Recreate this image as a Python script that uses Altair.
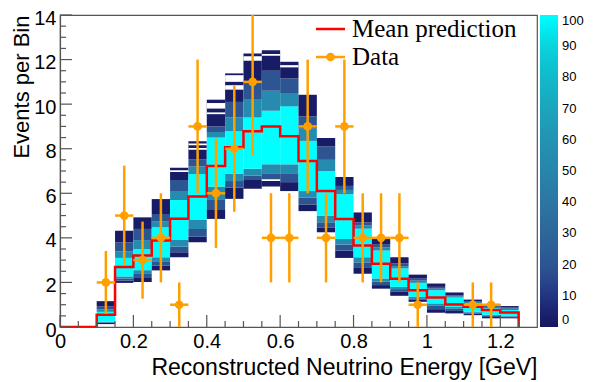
import altair as alt
import pandas as pd

# ---------------- data ----------------
bin_width = 0.05
# 2D prediction band, one entry per x bin starting at hist_x0
hist_x0 = [0.10, 0.15, 0.20, 0.25, 0.30, 0.35, 0.40, 0.45, 0.50, 0.55, 0.60, 0.65,
           0.70, 0.75, 0.80, 0.85, 0.90, 0.95, 1.00, 1.05, 1.10, 1.15, 1.20]
band_lo = [0.13, 1.98, 2.02, 2.54, 3.13, 3.80, 4.85, 5.75, 6.20, 6.30, 6.10, 5.20,
           4.25, 3.10, 2.39, 1.72, 1.40, 1.13, 0.64, 0.61, 0.53, 0.39, 0.39]
navy_lo = [0.18, 2.08, 2.20, 2.76, 3.35, 4.05, 5.25, 6.25, 6.60, 6.55, 6.50, 5.50,
           4.45, 3.43, 2.68, 1.88, 1.58, 1.22, 0.80, 0.72, 0.60, 0.45, 0.44]
blue_lo = [0.21, 2.18, 2.38, 2.95, 3.60, 4.40, 5.70, 6.55, 6.80, 6.90, 6.90, 5.80,
           4.70, 3.70, 2.90, 2.03, 1.70, 1.29, 0.95, 0.82, 0.64, 0.50, 0.47]
core_lo = [0.24, 2.27, 2.55, 3.13, 3.90, 4.80, 6.30, 6.87, 7.10, 7.30, 7.30, 6.10,
           5.00, 3.95, 3.13, 2.18, 1.80, 1.35, 1.06, 0.90, 0.68, 0.55, 0.50]
core_hi = [0.68, 3.10, 3.50, 4.47, 5.70, 6.87, 8.50, 8.78, 9.40, 9.70, 9.90, 8.35,
           7.00, 5.96, 4.41, 3.43, 2.63, 1.98, 1.65, 1.32, 1.06, 0.85, 0.76]
blue_hi = [0.80, 3.40, 3.90, 4.75, 6.10, 7.20, 8.75, 9.40, 10.20, 10.60, 10.50, 8.90,
           7.50, 6.15, 4.55, 3.58, 2.73, 2.08, 1.72, 1.37, 1.12, 0.90, 0.82]
navy_hi = [0.92, 3.80, 4.40, 5.07, 6.60, 7.53, 9.00, 10.10, 11.00, 11.50, 11.16, 9.45,
           8.10, 6.33, 4.69, 3.72, 2.85, 2.17, 1.80, 1.42, 1.16, 0.95, 0.87]
band_hi = [1.16, 4.32, 4.92, 5.74, 7.15, 8.34, 10.20, 11.38, 12.27, 12.42, 11.90, 10.42,
           8.48, 6.73, 5.14, 3.95, 3.13, 2.35, 1.95, 1.55, 1.23, 1.03, 0.94]
segment_z = [2, 20, 55, 100, 55, 20, 2]
# empty (white) rows inside the outer navy tails
gap_x0 = [0.30, 0.35, 0.35, 0.40, 0.40, 0.45, 0.45, 0.50, 0.55, 0.55, 0.60]
gap_y = [6.95, 8.15, 7.95, 9.80, 9.55, 11.00, 10.65, 11.95, 12.17, 6.55, 11.65]
gap_h = [0.08, 0.08, 0.08, 0.25, 0.08, 0.30, 0.20, 0.20, 0.08, 0.08, 0.10]

# mean prediction per bin (bin edges 0 ... 1.25)
mean_x0 = [0.00, 0.05, 0.10, 0.15, 0.20, 0.25, 0.30, 0.35, 0.40, 0.45, 0.50, 0.55, 0.60,
           0.65, 0.70, 0.75, 0.80, 0.85, 0.90, 0.95, 1.00, 1.05, 1.10, 1.15, 1.20]
mean_pred = [0.0, 0.0, 0.55, 2.69, 3.21, 3.88, 4.86, 5.86, 7.22, 8.07, 8.78, 9.00, 8.56,
             7.45, 6.10, 4.85, 3.66, 2.84, 2.17, 1.65, 1.32, 1.01, 0.91, 0.76, 0.65]

# data points
data_x = [0.125, 0.175, 0.225, 0.275, 0.325, 0.375, 0.425, 0.475, 0.525, 0.575,
          0.625, 0.675, 0.725, 0.775, 0.825, 0.875, 0.925, 0.975, 1.125, 1.175]
data_y = [2, 5, 3, 4, 1, 9, 6, 8, 11, 4, 4, 9, 4, 9, 4, 4, 4, 1, 1, 1]
data_err = [1.41, 2.24, 1.73, 2.0, 1.0, 3.0, 2.45, 2.83, 3.32, 2.0,
            2.0, 3.0, 2.0, 3.0, 2.0, 2.0, 2.0, 1.0, 1.0, 1.0]

# axis ticks / labels
x_major = [0, 0.2, 0.4, 0.6, 0.8, 1.0, 1.2]
x_minor = [0.05, 0.1, 0.15, 0.25, 0.3, 0.35, 0.45, 0.5, 0.55, 0.65, 0.7, 0.75,
           0.85, 0.9, 0.95, 1.05, 1.1, 1.15, 1.25]
y_major = [0, 2, 4, 6, 8, 10, 12, 14]
y_minor = [0.5, 1, 1.5, 2.5, 3, 3.5, 4.5, 5, 5.5, 6.5, 7, 7.5, 8.5, 9, 9.5, 10.5, 11,
           11.5, 12.5, 13, 13.5]
z_labels = [0, 10, 20, 30, 40, 50, 60, 70, 80, 90, 100]
z_ticks = [10, 20, 30, 40, 50, 60, 70, 80, 90]
palette_stops = [0, 5, 10, 15, 20, 30, 40, 50, 60, 70, 80, 90, 100]
palette_colors = ["#15155f", "#1c2470", "#213482", "#29478c", "#2c5591", "#2e6699",
                  "#2c76a3", "#2885ab", "#2294b3", "#1ba5bc", "#12b9c9", "#0ad3dc", "#00ffff"]

# ---------------- build tables ----------------
W, H = 477, 312
YMAX = 14.0
ZMAX = 100.0
rows = []
for i, x0 in enumerate(hist_x0):
    b = [band_lo[i], navy_lo[i], blue_lo[i], core_lo[i], core_hi[i], blue_hi[i],
         navy_hi[i], band_hi[i]]
    for k in range(7):
        rows.append({"x0": x0, "x1": x0 + bin_width, "y0": b[k], "y1": b[k + 1],
                     "z": segment_z[k]})
hist = pd.DataFrame(rows)
gaps = pd.DataFrame({"x0": gap_x0, "y0": gap_y})
gaps["x1"] = gaps["x0"] + bin_width
gaps["y1"] = gaps["y0"] + pd.Series(gap_h)

step_x = mean_x0 + [mean_x0[-1] + bin_width, mean_x0[-1] + bin_width]
step_y = mean_pred + [mean_pred[-1], 0.0]
step = pd.DataFrame({"x": step_x, "y": step_y, "i": list(range(len(step_x)))})

pts = pd.DataFrame({"x": data_x, "y": data_y, "e": data_err})
pts["xl"] = pts["x"] - bin_width / 2
pts["xh"] = pts["x"] + bin_width / 2
pts["yl"] = pts["y"] - pts["e"]
pts["yh"] = pts["y"] + pts["e"]

# colour-bar ticks expressed on the shared y scale (0..100 -> 0..14)
zt = pd.DataFrame({"v": [t / ZMAX * YMAX for t in z_ticks]})

xs = alt.Scale(domain=[0, 1.3], nice=False, zero=False)
ys = alt.Scale(domain=[0, YMAX], nice=False, zero=False)
ORANGE = "#ffa000"
GREY = "#555555"
SANS = "Liberation Sans"
XT = "Reconstructed Neutrino Energy [GeV]"
YT = "Events per Bin"

xaxis = alt.Axis(values=x_major, format="~g", ticks=False, grid=False, labelFlush=False,
                 title=XT, titleX=W, titleY=47, titleAlign="right",
                 titleBaseline="alphabetic", titleAnchor="end", titleFontSize=23)
yaxis = alt.Axis(values=y_major, format="d", ticks=False, grid=False, labelFlush=False,
                 labelOffset=3,
                 title=YT, titleX=-32, titleY=0, titleAngle=-90, titleAlign="right",
                 titleBaseline="alphabetic", titleAnchor="end", titleFontSize=22)


def X(f):
    return alt.X(f, scale=xs, axis=xaxis, title=XT)


def Y(f):
    return alt.Y(f, scale=ys, axis=yaxis, title=YT)


rects = alt.Chart(hist).mark_rect(clip=True).encode(
    x=X("x0:Q"), x2="x1:Q", y=Y("y0:Q"), y2="y1:Q",
    color=alt.Color("z:Q", scale=alt.Scale(domain=palette_stops, range=palette_colors),
                    legend=alt.Legend(orient="none", legendX=480, legendY=0,
                                      direction="vertical", gradientLength=H,
                                      gradientThickness=18, title=None, values=z_labels,
                                      labelFontSize=13, labelFont=SANS, labelOffset=4,
                                      labelColor="black",
                                      labelOverlap=False, gradientStrokeWidth=0)),
)
white = alt.Chart(gaps).mark_rect(clip=True, color="white").encode(
    x=X("x0:Q"), x2="x1:Q", y=Y("y0:Q"), y2="y1:Q")

line = alt.Chart(step).mark_line(interpolate="step-after", color="#ff0000",
                                 strokeWidth=2.5, clip=True).encode(
    x=X("x:Q"), y=Y("y:Q"), order="i:Q")

hbar = alt.Chart(pts).mark_rule(color=ORANGE, strokeWidth=2.5, clip=True).encode(
    x=X("xl:Q"), x2="xh:Q", y=Y("y:Q"))
vbar = alt.Chart(pts).mark_rule(color=ORANGE, strokeWidth=2.5, clip=True).encode(
    x=X("x:Q"), y=Y("yl:Q"), y2="yh:Q")
dots = alt.Chart(pts).mark_point(filled=True, shape="circle", size=75, color=ORANGE,
                                 opacity=1, clip=True).encode(x=X("x:Q"), y=Y("y:Q"))

xmaj = alt.Chart(pd.DataFrame({"v": x_major})).mark_rule(color=GREY, strokeWidth=1.2).encode(
    x=X("v:Q"), y=alt.value(H), y2=alt.value(H - 12))
xmin = alt.Chart(pd.DataFrame({"v": x_minor})).mark_rule(color=GREY, strokeWidth=1.2).encode(
    x=X("v:Q"), y=alt.value(H), y2=alt.value(H - 6))
ymaj = alt.Chart(pd.DataFrame({"v": y_major})).mark_rule(color=GREY, strokeWidth=1.2).encode(
    y=Y("v:Q"), x=alt.value(0), x2=alt.value(12))
ymin = alt.Chart(pd.DataFrame({"v": y_minor})).mark_rule(color=GREY, strokeWidth=1.2).encode(
    y=Y("v:Q"), x=alt.value(0), x2=alt.value(6))
zticks = alt.Chart(zt).mark_rule(color="#10304a", strokeWidth=1.3).encode(
    y=Y("v:Q"), x=alt.value(489), x2=alt.value(498))

one = pd.DataFrame({"a": [0]})
leg_red = alt.Chart(one).mark_rule(color="#ff0000", strokeWidth=2.5).encode(
    x=alt.value(256), x2=alt.value(285), y=alt.value(14))
leg_org = alt.Chart(one).mark_rule(color=ORANGE, strokeWidth=2.5).encode(
    x=alt.value(256), x2=alt.value(285), y=alt.value(42))
leg_dot = alt.Chart(one).mark_point(filled=True, shape="circle", size=75, color=ORANGE,
                                    opacity=1).encode(x=alt.value(270.5), y=alt.value(42))
leg_t1 = alt.Chart(one).mark_text(text="Mean prediction", align="left", baseline="middle",
                                  font="Liberation Serif", fontSize=25, color="black").encode(
    x=alt.value(292), y=alt.value(14))
leg_t2 = alt.Chart(one).mark_text(text="Data", align="left", baseline="middle",
                                  font="Liberation Serif", fontSize=25, color="black").encode(
    x=alt.value(292), y=alt.value(42))

chart = alt.layer(rects, white, line, hbar, vbar, dots, xmaj, xmin, ymaj, ymin, zticks,
                  leg_red, leg_org, leg_dot, leg_t1, leg_t2).properties(
    width=W, height=H,
    autosize=alt.AutoSizeParams(type="none"),
    padding={"left": 52, "top": 7, "right": 51, "bottom": 55},
).configure_view(stroke=GREY, strokeWidth=1.2).configure_axis(
    domainColor=GREY, domainWidth=1.2, labelFont=SANS, labelFontSize=20, labelColor="black",
    labelPadding=4, titleFont=SANS, titleFontWeight="normal", titleColor="black",
)

chart.save("out.html", embed_options={"renderer": "svg", "actions": False})
